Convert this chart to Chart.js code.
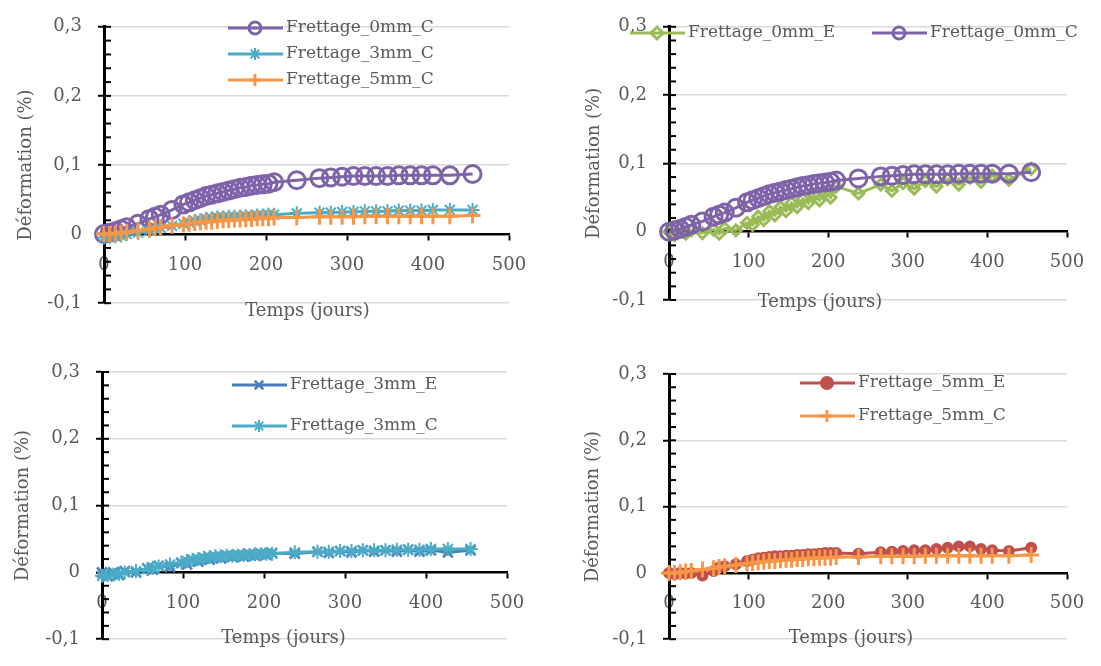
<!DOCTYPE html>
<html>
<head>
  <script src="https://cdn.jsdelivr.net/npm/chart.js"></script>
  <style>
    body { margin: 0; background: #fff; }
    canvas { position: absolute; }
  </style>
</head>
<body>
  <canvas id="c1" width="545" height="330" style="left:0px;top:0px"></canvas>
  <canvas id="c2" width="541" height="330" style="left:560px;top:0px"></canvas>
  <canvas id="c3" width="545" height="331" style="left:0px;top:335px"></canvas>
  <canvas id="c4" width="541" height="331" style="left:560px;top:335px"></canvas>

  <script>
    // measurement days (shared by all series)
    var days = [0, 7, 14, 21, 28, 42, 56, 63, 70, 84, 98, 105, 112, 119, 126, 133, 140, 147, 154, 161,
                168, 175, 182, 189, 196, 203, 210, 238, 266, 280, 294, 308, 322, 336, 350, 364, 378, 392, 406, 427, 455];

    // strain values in %
    var frettage0mmC = [0, 0.002, 0.004, 0.007, 0.01, 0.015, 0.022, 0.025, 0.028, 0.035, 0.043, 0.046, 0.049, 0.052, 0.055,
                        0.057, 0.059, 0.061, 0.063, 0.065, 0.067, 0.068, 0.07, 0.071, 0.072, 0.073, 0.075, 0.078, 0.081, 0.082,
                        0.083, 0.084, 0.084, 0.084, 0.084, 0.085, 0.085, 0.085, 0.085, 0.085, 0.087];
    var frettage0mmE = [0, -0.005, 0.004, -0.003, 0.002, -0.002, 0.003, -0.003, 0.005, 0.002, 0.013, 0.01, 0.022, 0.017, 0.03,
                        0.024, 0.036, 0.03, 0.042, 0.036, 0.048, 0.042, 0.054, 0.046, 0.058, 0.05, 0.066, 0.056, 0.069, 0.06,
                        0.071, 0.063, 0.074, 0.066, 0.077, 0.069, 0.079, 0.073, 0.082, 0.076, 0.092];
    var frettage3mmC = [-0.005, -0.004, -0.003, -0.002, 0, 0.002, 0.005, 0.007, 0.009, 0.012, 0.015, 0.017, 0.019, 0.02, 0.022,
                        0.023, 0.024, 0.024, 0.025, 0.025, 0.025, 0.026, 0.026, 0.027, 0.027, 0.028, 0.028, 0.03, 0.031, 0.031,
                        0.032, 0.032, 0.033, 0.033, 0.033, 0.034, 0.034, 0.034, 0.035, 0.035, 0.035];
    var frettage3mmE = [0, -0.006, 0, -0.004, 0.002, 0, 0.006, 0.004, 0.01, 0.008, 0.014, 0.012, 0.018, 0.016, 0.021,
                        0.019, 0.023, 0.021, 0.025, 0.023, 0.026, 0.024, 0.027, 0.025, 0.028, 0.026, 0.029, 0.028, 0.031, 0.029,
                        0.032, 0.03, 0.033, 0.031, 0.033, 0.031, 0.034, 0.031, 0.033, 0.03, 0.033];
    var frettage5mmC = [0, 0, 0.001, 0.002, 0.003, 0.005, 0.007, 0.009, 0.01, 0.012, 0.014, 0.015, 0.016, 0.017, 0.018,
                        0.018, 0.019, 0.02, 0.02, 0.021, 0.021, 0.022, 0.022, 0.023, 0.023, 0.023, 0.024, 0.024, 0.025, 0.025,
                        0.025, 0.025, 0.026, 0.026, 0.026, 0.026, 0.026, 0.026, 0.026, 0.026, 0.027];
    var frettage5mmE = [0, -0.002, 0, -0.001, 0, -0.004, 0.003, 0.008, 0.01, 0.013, 0.018, 0.02, 0.022, 0.023, 0.024,
                        0.025, 0.025, 0.026, 0.026, 0.027, 0.027, 0.028, 0.028, 0.029, 0.03, 0.03, 0.03, 0.029, 0.031, 0.032,
                        0.033, 0.034, 0.034, 0.036, 0.038, 0.04, 0.04, 0.036, 0.034, 0.033, 0.038];

    var FONT = "'DejaVu Serif', serif";
    var GREY = '#595959';
    Chart.defaults.font.family = FONT;
    Chart.defaults.color = GREY;

    function pts(values) {
      return days.map(function(d, i) { return {x: d, y: values[i]}; });
    }

    function series(label, values, color, style, radius, markerWidth, fill, order) {
      return {
        label: label,
        data: pts(values),
        borderColor: color,
        backgroundColor: color,
        borderWidth: 3,
        pointStyle: style,
        pointRadius: radius,
        pointBorderWidth: markerWidth,
        pointBorderColor: color,
        pointBackgroundColor: fill,
        tension: 0,
        clip: false,
        order: order
      };
    }

    function isMajor(v) { return Math.abs(v * 10 - Math.round(v * 10)) < 1e-6; }

    // small inward ticks on the y axis
    var yInnerTicks = {
      id: 'yInnerTicks',
      beforeDatasetsDraw: function(chart) {
        var y = chart.scales.y, ctx = chart.ctx, x0 = chart.chartArea.left;
        ctx.save();
        ctx.strokeStyle = '#000';
        ctx.lineWidth = 2;
        y.ticks.forEach(function(t) {
          var py = y.getPixelForValue(t.value);
          ctx.beginPath();
          ctx.moveTo(x0, py);
          ctx.lineTo(x0 + 7, py);
          ctx.stroke();
        });
        ctx.restore();
      }
    };

    // legend drawn inside the plot, Excel style
    var insideLegend = {
      id: 'insideLegend',
      afterDraw: function(chart, args, opts) {
        var ctx = chart.ctx;
        ctx.save();
        chart.data.datasets.forEach(function(ds, i) {
          var p = opts.items[i];
          ctx.strokeStyle = ds.borderColor;
          ctx.lineWidth = ds.borderWidth;
          ctx.beginPath();
          ctx.moveTo(p.x, p.y);
          ctx.lineTo(p.x + 55, p.y);
          ctx.stroke();
          ctx.fillStyle = ds.pointBackgroundColor;
          ctx.lineWidth = ds.pointBorderWidth;
          Chart.helpers.drawPoint(ctx, {pointStyle: ds.pointStyle, radius: 6, rotation: 0, borderWidth: ds.pointBorderWidth}, p.x + 27, p.y);
          ctx.fillStyle = GREY;
          ctx.font = '17px ' + FONT;
          ctx.textBaseline = 'middle';
          ctx.textAlign = 'left';
          ctx.fillText(ds.label, p.x + 58, p.y);
        });
        ctx.restore();
      }
    };

    // x axis title placed under the plot
    var xTitle = {
      id: 'xTitle',
      afterDraw: function(chart, args, opts) {
        var a = chart.chartArea, ctx = chart.ctx;
        ctx.save();
        ctx.fillStyle = GREY;
        ctx.font = '18px ' + FONT;
        ctx.textAlign = 'center';
        ctx.textBaseline = 'middle';
        ctx.fillText(opts.text, (a.left + a.right) / 2 + opts.dx, a.bottom + opts.dy);
        ctx.restore();
      }
    };

    function makeChart(id, box, area, yTitlePad, titleShift, legendItems, datasets) {
      var ctx = document.getElementById(id).getContext('2d');
      return new Chart(ctx, {
        type: 'line',
        data: {datasets: datasets},
        options: {
          responsive: false,
          animation: false,
          layout: {
            padding: {
              left: 0,
              top: area.top - box.top,
              right: box.left + box.width - area.right,
              bottom: box.top + box.height - area.bottom
            }
          },
          plugins: {
            legend: {display: false},
            tooltip: {enabled: false},
            insideLegend: {items: legendItems},
            xTitle: {text: 'Temps (jours)', dx: titleShift.dx, dy: titleShift.dy}
          },
          scales: {
            x: {
              type: 'linear',
              position: {y: 0},
              min: 0,
              max: 500,
              ticks: {stepSize: 100, font: {size: 18}, color: GREY, padding: 15},
              grid: {drawOnChartArea: false, tickLength: 5, tickColor: '#000', tickWidth: 2},
              border: {color: '#000', width: 2.5}
            },
            y: {
              min: -0.1,
              max: 0.3,
              afterFit: function(scale) { scale.width = area.left - box.left; },
              ticks: {
                stepSize: 0.02,
                autoSkip: false,
                font: {size: 18},
                color: GREY,
                padding: 16,
                callback: function(v) {
                  if (!isMajor(v)) return '';
                  var r = Math.round(v * 10) / 10;
                  return r === 0 ? '0' : r.toFixed(1).replace('.', ',');
                }
              },
              grid: {
                color: function(c) {
                  var v = c.tick ? c.tick.value : 1;
                  return (isMajor(v) && Math.abs(v) > 1e-9) ? '#d9d9d9' : 'rgba(0,0,0,0)';
                },
                lineWidth: 1.5,
                tickLength: 6,
                tickWidth: 2,
                tickColor: function(c) {
                  return (c.tick && isMajor(c.tick.value)) ? '#000' : 'rgba(0,0,0,0)';
                }
              },
              border: {color: '#000', width: 3},
              title: {
                display: true,
                text: 'Déformation (%)',
                font: {size: 18},
                color: GREY,
                padding: {top: yTitlePad + 2, bottom: 0}
              }
            }
          }
        },
        plugins: [yInnerTicks, insideLegend, xTitle]
      });
    }

    var PURPLE = '#7F63A8', TEAL = '#4BACC6', ORANGE = '#F79646',
        GREEN = '#9BBB59', BLUE = '#4A7EBB', RED = '#C0504D', NONE = 'rgba(0,0,0,0)';

    makeChart('c1', {left: 0, top: 0, width: 545, height: 330}, {left: 104, top: 23, right: 509, bottom: 304}, 14,
      {dx: 1, dy: 8},
      [{x: 228, y: 28}, {x: 228, y: 54}, {x: 228, y: 80}],
      [
        series('Frettage_0mm_C', frettage0mmC, PURPLE, 'circle', 8.5, 3, NONE, 3),
        series('Frettage_3mm_C', frettage3mmC, TEAL, 'star', 7, 2, NONE, 2),
        series('Frettage_5mm_C', frettage5mmC, ORANGE, 'cross', 8, 3, NONE, 1)
      ]);

    makeChart('c2', {left: 560, top: 0, width: 541, height: 330}, {left: 669, top: 20, right: 1067, bottom: 300}, 22,
      {dx: -48, dy: 2},
      [{x: 70, y: 33}, {x: 312, y: 33}],
      [
        series('Frettage_0mm_E', frettage0mmE, GREEN, 'rectRot', 5.5, 3, NONE, 2),
        series('Frettage_0mm_C', frettage0mmC, PURPLE, 'circle', 8.5, 3, NONE, 1)
      ]);

    makeChart('c3', {left: 0, top: 335, width: 545, height: 331}, {left: 102, top: 372, right: 507, bottom: 653}, 11,
      {dx: -21, dy: -1},
      [{x: 232, y: 50}, {x: 232, y: 91}],
      [
        series('Frettage_3mm_E', frettage3mmE, BLUE, 'crossRot', 7, 2.5, NONE, 2),
        series('Frettage_3mm_C', frettage3mmC, TEAL, 'star', 7, 2, NONE, 1)
      ]);

    makeChart('c4', {left: 560, top: 335, width: 541, height: 331}, {left: 669, top: 374, right: 1067, bottom: 654}, 21,
      {dx: -17, dy: -1},
      [{x: 240, y: 48}, {x: 240, y: 81}],
      [
        series('Frettage_5mm_E', frettage5mmE, RED, 'circle', 5, 2, RED, 2),
        series('Frettage_5mm_C', frettage5mmC, ORANGE, 'cross', 8, 3, NONE, 1)
      ]);
  </script>
</body>
</html>
